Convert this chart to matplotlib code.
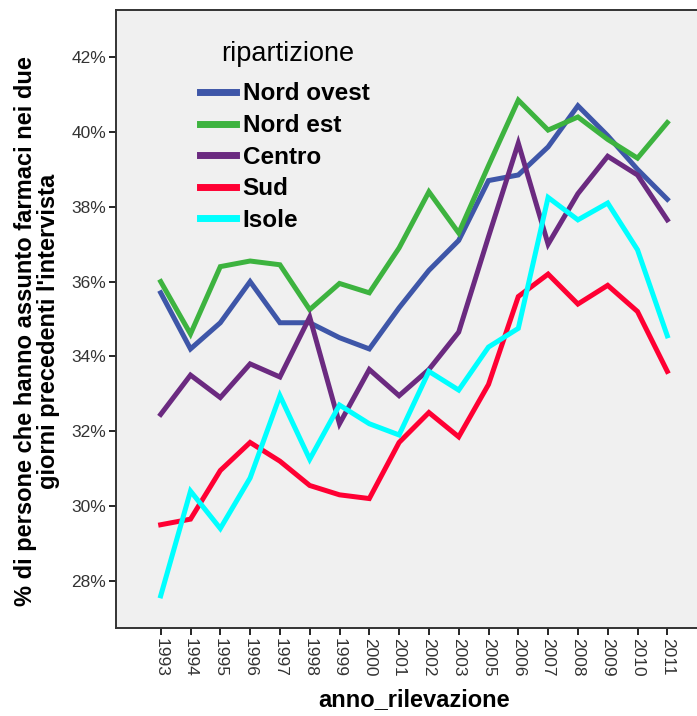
import numpy as np
import matplotlib
matplotlib.use("Agg")
import matplotlib.pyplot as plt
from matplotlib.ticker import FuncFormatter

plt.rcParams["font.family"] = ["Liberation Sans", "DejaVu Sans"]

# data (%)
years = ["1993", "1994", "1995", "1996", "1997", "1998", "1999", "2000", "2001",
         "2002", "2003", "2005", "2006", "2007", "2008", "2009", "2010", "2011"]
nord_ovest = [35.7, 34.2, 34.9, 36.0, 34.9, 34.9, 34.5, 34.2, 35.3,
              36.3, 37.1, 38.7, 38.85, 39.6, 40.7, 39.9, 39.0, 38.2]
nord_est = [36.0, 34.6, 36.4, 36.55, 36.45, 35.25, 35.95, 35.7, 36.9,
            38.4, 37.3, 39.1, 40.85, 40.05, 40.4, 39.8, 39.3, 40.25]
centro = [32.45, 33.5, 32.9, 33.8, 33.45, 35.05, 32.2, 33.65, 32.95,
          33.65, 34.65, 37.2, 39.7, 37.0, 38.35, 39.35, 38.85, 37.65]
sud = [29.5, 29.65, 30.95, 31.7, 31.2, 30.55, 30.3, 30.2, 31.7,
       32.5, 31.85, 33.25, 35.6, 36.2, 35.4, 35.9, 35.2, 33.6]
isole = [27.6, 30.4, 29.4, 30.75, 32.95, 31.25, 32.7, 32.2, 31.9,
         33.6, 33.1, 34.25, 34.75, 38.25, 37.65, 38.1, 36.85, 34.55]

series = [("Nord ovest", nord_ovest, "#3e56a8"),
          ("Nord est", nord_est, "#3db33f"),
          ("Centro", centro, "#6b2a80"),
          ("Sud", sud, "#ff0033"),
          ("Isole", isole, "#00ffff")]

W, H = 697, 716
fig = plt.figure(figsize=(W / 100, H / 100), dpi=100)
ax = fig.add_axes([116 / W, 1 - 628 / H, (712 - 116) / W, (628 - 10) / H])
ax.set_facecolor("#f0f0f0")

x = np.arange(len(years))
for name, vals, col in series:
    ax.plot(x, vals, color=col, lw=3.6, label=name, solid_joinstyle="miter")

ax.set_xlim(-1.5, 18.5)
ax.set_ylim(26.74, 43.26)
ax.set_xticks(x)
ax.set_xticklabels(years, rotation=-90, fontsize=12.5, color="#333333")
ax.set_yticks(np.arange(28, 43, 2))
ax.yaxis.set_major_formatter(FuncFormatter(lambda v, _: f"{v:.0f}%"))
ax.tick_params(axis="y", labelsize=12.5, labelcolor="#333333", length=5, width=1.2, pad=2)
ax.tick_params(axis="x", length=5, width=1.2, pad=2)
for s in ["left", "bottom", "top"]:
    ax.spines[s].set_color("#333333")
    ax.spines[s].set_linewidth(1.4)
ax.spines["right"].set_visible(False)

fig.text(37 / W, 1 - 331 / H,
         "% di persone che hanno assunto farmaci nei due\ngiorni precedenti l'intervista",
         rotation=90, ha="center", va="center", multialignment="center",
         fontsize=17, fontweight="bold", linespacing=0.95)
fig.text(414 / W, 1 - 700 / H, "anno_rilevazione", ha="center", va="center",
         fontsize=17, fontweight="bold")

# legend title drawn on its own to match the wider gap above the entries
fig.text(288 / W, 1 - 54 / H, "ripartizione", ha="center", va="center", fontsize=19.5)
leg = ax.legend(loc="upper left", bbox_to_anchor=(200 / W, 1 - 82.5 / H),
                bbox_transform=fig.transFigure, frameon=False,
                prop={"size": 17.5, "weight": "bold"},
                handlelength=1.5, handletextpad=0.25, labelspacing=0.35,
                borderpad=0, borderaxespad=0)
for h in leg.legend_handles:
    h.set_linewidth(5)

fig.savefig("out.png", dpi=100)
